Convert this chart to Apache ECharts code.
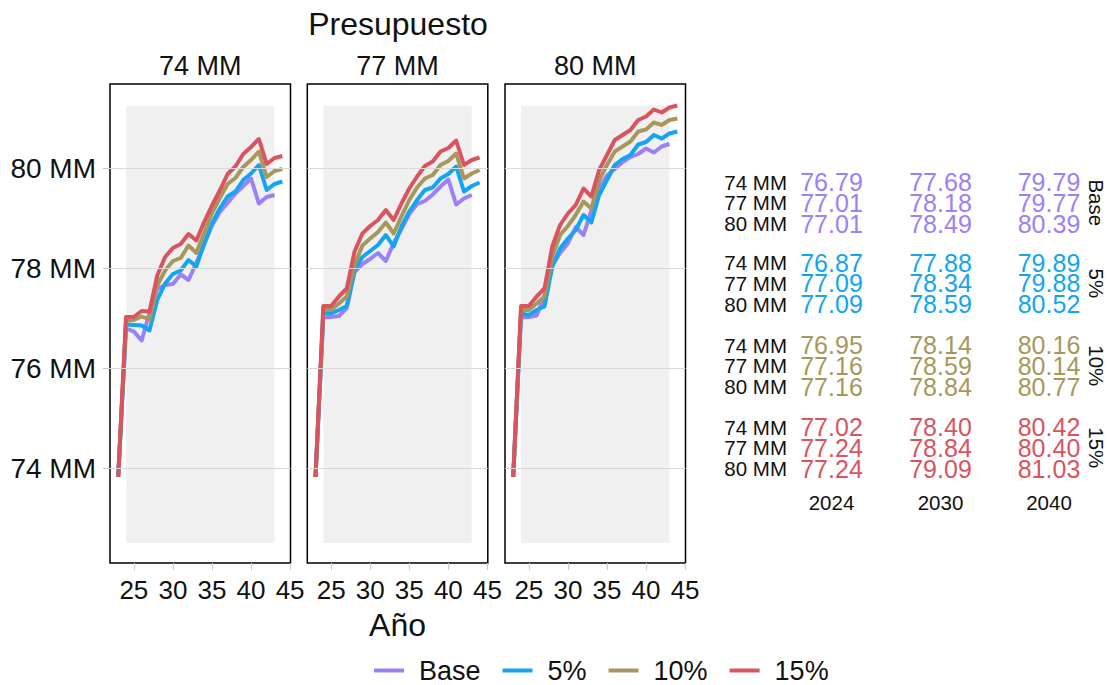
<!DOCTYPE html>
<html>
<head>
<meta charset="utf-8">
<title>Presupuesto</title>
<script src="https://cdn.jsdelivr.net/npm/echarts@6/dist/echarts.min.js"></script>
<style>
  html, body { margin: 0; padding: 0; background: #ffffff; }
  #chart { width: 1110px; height: 685px; }
</style>
</head>
<body>
<div id="chart"></div>
<script>
// Years (2000 + n) on the x axis
const years = [23, 24, 25, 26, 27, 28, 29, 30, 31, 32, 33, 34, 35, 36, 37, 38, 39, 40, 41, 42, 43, 44];

const budgets = ['74 MM', '77 MM', '80 MM'];
const scenarios = ['Base', '5%', '10%', '15%'];
const scenarioColors = ['#9c80f6', '#14a5f0', '#a8975a', '#d9545e'];

const xTicks = [25, 30, 35, 40, 45];
const yTicks = [74, 76, 78, 80];
const tableYears = [2024, 2030, 2040];

// Budget 74 MM
const base74 = [73.82, 76.79, 76.73, 76.55, 77.10, 77.58, 77.66, 77.68, 77.87, 77.76, 78.10, 78.47, 78.85, 79.12, 79.30, 79.49, 79.64, 79.79, 79.29, 79.42, 79.46];
const p5_74  = [73.82, 76.87, 76.86, 76.85, 76.75, 77.36, 77.69, 77.88, 77.95, 78.16, 78.03, 78.49, 78.89, 79.19, 79.43, 79.53, 79.76, 79.89, 80.06, 79.56, 79.68, 79.73];
const p10_74 = [73.82, 76.95, 76.96, 77.03, 76.97, 77.65, 77.95, 78.14, 78.20, 78.45, 78.30, 78.70, 79.10, 79.40, 79.68, 79.80, 80.02, 80.16, 80.33, 79.82, 79.94, 79.98];
const p15_74 = [73.82, 77.02, 77.02, 77.14, 77.13, 77.85, 78.22, 78.40, 78.48, 78.68, 78.55, 78.92, 79.25, 79.55, 79.88, 80.03, 80.28, 80.42, 80.58, 80.08, 80.20, 80.24];

// Budget 77 MM
const base77 = [73.82, 77.01, 77.02, 77.04, 77.20, 77.92, 78.08, 78.18, 78.30, 78.14, 78.50, 78.78, 79.08, 79.28, 79.34, 79.47, 79.63, 79.77, 79.27, 79.39, 79.46];
const p5_77  = [73.82, 77.09, 77.09, 77.16, 77.24, 77.96, 78.22, 78.34, 78.46, 78.66, 78.43, 78.83, 79.13, 79.36, 79.56, 79.61, 79.79, 79.88, 80.03, 79.53, 79.64, 79.71];
const p10_77 = [73.82, 77.16, 77.16, 77.29, 77.43, 78.06, 78.45, 78.59, 78.72, 78.91, 78.69, 79.03, 79.36, 79.61, 79.79, 79.86, 80.06, 80.14, 80.29, 79.79, 79.89, 79.96];
const p15_77 = [73.82, 77.24, 77.24, 77.43, 77.59, 78.33, 78.69, 78.84, 78.96, 79.16, 78.96, 79.29, 79.59, 79.83, 80.04, 80.13, 80.33, 80.40, 80.55, 80.06, 80.16, 80.21];

// Budget 80 MM
const base80 = [73.82, 77.01, 77.02, 77.05, 77.45, 78.05, 78.30, 78.49, 78.82, 78.66, 79.15, 79.60, 79.85, 79.98, 80.12, 80.22, 80.28, 80.39, 80.31, 80.43, 80.48];
const p5_80  = [73.82, 77.09, 77.06, 77.16, 77.23, 78.03, 78.39, 78.59, 78.76, 79.06, 78.91, 79.46, 79.76, 80.06, 80.18, 80.26, 80.47, 80.52, 80.66, 80.59, 80.69, 80.73];
const p10_80 = [73.82, 77.16, 77.16, 77.29, 77.43, 78.23, 78.66, 78.84, 79.06, 79.33, 79.19, 79.76, 80.06, 80.33, 80.43, 80.53, 80.73, 80.77, 80.91, 80.86, 80.96, 80.99];
const p15_80 = [73.82, 77.24, 77.24, 77.43, 77.59, 78.43, 78.86, 79.09, 79.26, 79.59, 79.43, 79.96, 80.26, 80.56, 80.66, 80.76, 80.96, 81.03, 81.17, 81.11, 81.21, 81.25];

const panelSeries = [
  [base74, p5_74, p10_74, p15_74],
  [base77, p5_77, p10_77, p15_77],
  [base80, p5_80, p10_80, p15_80]
];

const FONT = "'Liberation Sans', Arial, Helvetica, sans-serif";
const INK = '#111111';

// ---- panel geometry ----
const panelLeft = [110, 307.3, 505];
const panelWidth = 180.5;
const panelTop = 84;
const panelHeight = 479;
const xMin = 21.95, xMax = 45.05;
const yMin = 72.1, yMax = 81.68;

const grids = [], xAxes = [], yAxes = [], series = [];

panelSeries.forEach((group, i) => {
  grids.push({
    left: panelLeft[i], top: panelTop, width: panelWidth, height: panelHeight,
    show: true, borderColor: '#000000', borderWidth: 1.5, backgroundColor: 'transparent'
  });
  xAxes.push({
    type: 'value', gridIndex: i, min: xMin, max: xMax,
    name: i === 1 ? 'Año' : '', nameLocation: 'middle', nameGap: 46,
    nameTextStyle: { fontSize: 32, color: INK, fontFamily: FONT },
    axisLine: { show: false },
    axisTick: { show: true, customValues: xTicks, length: 7, lineStyle: { color: '#c8c8c8', width: 1 } },
    axisLabel: { show: true, customValues: xTicks, fontSize: 26, color: INK, fontFamily: FONT, margin: 14 },
    splitLine: { show: false }
  });
  yAxes.push({
    type: 'value', gridIndex: i, min: yMin, max: yMax,
    axisLine: { show: false },
    axisTick: { show: i === 0, customValues: yTicks, length: 7, lineStyle: { color: '#c8c8c8', width: 1 } },
    axisLabel: {
      show: i === 0, customValues: yTicks, fontSize: 28, color: INK, fontFamily: FONT, margin: 14,
      formatter: v => v + ' MM'
    },
    splitLine: { show: false }
  });

  // shaded projection window and horizontal grid lines
  series.push({
    type: 'line', name: 'fondo', xAxisIndex: i, yAxisIndex: i, z: 1,
    data: [[24, 72.5]], showSymbol: false, symbol: 'none', silent: true,
    lineStyle: { opacity: 0 },
    markArea: {
      silent: true,
      itemStyle: { color: 'rgba(0,0,0,0.058)' },
      data: [[{ xAxis: 24, yAxis: 72.5 }, { xAxis: 43, yAxis: 81.25 }]]
    },
    markLine: {
      silent: true, symbol: ['none', 'none'], label: { show: false },
      lineStyle: { color: '#d9d9d9', width: 1, type: 'solid' },
      data: yTicks.map(v => ({ yAxis: v }))
    }
  });

  group.forEach((vals, s) => {
    series.push({
      type: 'line', name: scenarios[s], xAxisIndex: i, yAxisIndex: i, z: 3,
      data: vals.map((v, k) => [years[k], v]),
      showSymbol: false, symbol: 'none',
      lineStyle: { width: 4, color: scenarioColors[s], join: 'round' },
      itemStyle: { color: scenarioColors[s] }
    });
  });
});

// ---- text: title, facet strips, summary table ----
const graphics = [];
graphics.push({
  type: 'text', x: 398, y: 24,
  style: { text: 'Presupuesto', fontSize: 32, fill: INK, fontFamily: FONT, textAlign: 'center', textVerticalAlign: 'middle' }
});
budgets.forEach((b, i) => {
  graphics.push({
    type: 'text', x: panelLeft[i] + panelWidth / 2, y: 66,
    style: { text: b, fontSize: 27, fill: INK, fontFamily: FONT, textAlign: 'center', textVerticalAlign: 'middle' }
  });
});

const groupTop = [182, 262.5, 345, 427];
const rowStep = 20.8;
const rowLabelRight = 787;
const colCenter = [831.5, 940.5, 1049];
const groupLabelX = 1096;

scenarios.forEach((sc, s) => {
  budgets.forEach((b, i) => {
    const y = groupTop[s] + i * rowStep;
    graphics.push({
      type: 'text', x: rowLabelRight, y: y,
      style: { text: b, fontSize: 20.5, lineHeight: 19, fill: INK, fontFamily: FONT, textAlign: 'right', textVerticalAlign: 'middle' }
    });
    const vals = panelSeries[i][s];
    tableYears.forEach((yr, c) => {
      const idx = years.indexOf(yr - 2000);
      graphics.push({
        type: 'text', x: colCenter[c], y: y,
        style: { text: vals[idx].toFixed(2), fontSize: 25, lineHeight: 20, fill: scenarioColors[s], fontFamily: FONT, textAlign: 'center', textVerticalAlign: 'middle' }
      });
    });
  });
  graphics.push({
    type: 'text', x: groupLabelX, y: groupTop[s] + rowStep, rotation: -Math.PI / 2,
    style: { text: sc, fontSize: 20.5, fill: INK, fontFamily: FONT, textAlign: 'center', textVerticalAlign: 'middle' }
  });
});
tableYears.forEach((yr, c) => {
  graphics.push({
    type: 'text', x: colCenter[c], y: 502,
    style: { text: String(yr), fontSize: 20.5, fill: INK, fontFamily: FONT, textAlign: 'center', textVerticalAlign: 'middle' }
  });
});

const chart = echarts.init(document.getElementById('chart'), null, { renderer: 'svg' });
chart.setOption({
  animation: false,
  backgroundColor: '#ffffff',
  textStyle: { fontFamily: FONT },
  grid: grids,
  xAxis: xAxes,
  yAxis: yAxes,
  legend: {
    data: scenarios, left: 369, top: 652,
    icon: 'rect', itemWidth: 30, itemHeight: 4, itemGap: 22,
    textStyle: { fontSize: 27, lineHeight: 22, color: INK, fontFamily: FONT, padding: [0, 0, 0, 10] }
  },
  graphic: graphics,
  series: series
});
</script>
</body>
</html>
